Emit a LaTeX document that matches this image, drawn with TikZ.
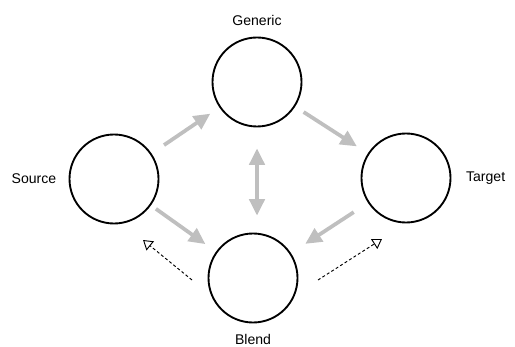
\documentclass[tikz,border=0pt]{standalone}
\usepackage{fontspec}
\setmainfont{Liberation Sans}
\usetikzlibrary{arrows.meta,positioning}
\begin{document}
\begin{tikzpicture}[x=0.03cm, y=-0.03cm, font=\fontsize{12}{14}\selectfont,
        main/.style = {draw, circle, line width=1.6pt, minimum size=2.67cm, inner sep=0pt},
        flow/.style = {draw=black!25, line width=3.2pt, -{Triangle[length=14pt, width=13pt]}},
        back/.style = {dashed, line width=0.8pt, dash pattern=on 2.5pt off 2pt, -{Triangle[open, length=8pt, width=10pt]}}]
            \useasboundingbox (0,0) rectangle (515,347);
            \node[main, label={[label distance=6pt]above:Generic}] (gen) at (257,82)  {};
            \node[main, label={[label distance=7pt]left:Source}]   (src) at (114,179) {};
            \node[main, label={[label distance=9pt]right:Target}]  (tgt) at (406,178) {};
            \node[main, label={[label distance=6pt]below:Blend}]   (bld) at (253,278) {};
            \coordinate (lo) at (192,280);
            \coordinate (lt) at (143,240);
            \coordinate (ro) at (318,280);
            \coordinate (rt) at (382,239);

            \draw[flow, shorten <=0.45cm, shorten >=0.33cm] (src) -- (gen);
            \draw[flow, shorten <=0.3cm, shorten >=0.39cm] (gen) -- (tgt);
            \draw[flow, shorten <=0.18cm, shorten >=0.39cm] (src) -- (bld);
            \draw[flow, shorten <=0.51cm, shorten >=0.51cm] (tgt) -- (bld);
            \draw[flow, {Triangle[length=14pt, width=13pt]}-{Triangle[length=14pt, width=13pt]}, shorten <=0.63cm, shorten >=0.51cm] (gen.south) -- (gen.south |- bld.north);
            \draw[back] (lo) -- (lt);
            \draw[back] (ro) -- (rt);
        \end{tikzpicture}
\end{document}
